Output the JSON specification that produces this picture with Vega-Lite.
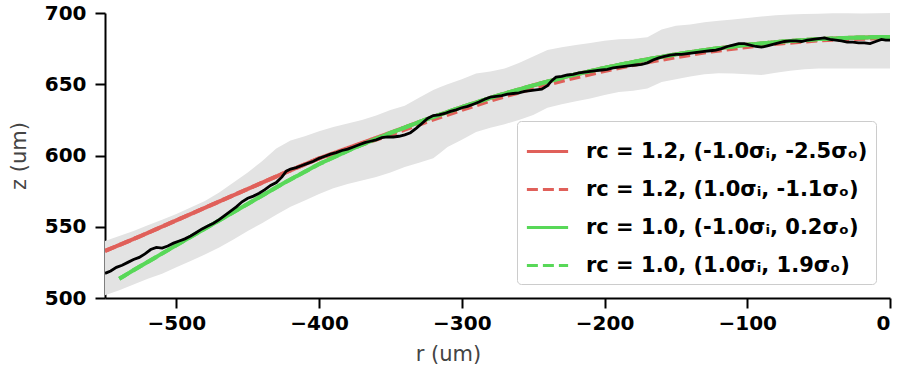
{
  "$schema": "https://vega.github.io/schema/vega-lite/v6.json",
  "width": 785,
  "height": 285,
  "autosize": {"type": "none"},
  "padding": {"left": 105, "top": 13, "right": 10, "bottom": 74},
  "background": "white",
  "config": {
    "view": {"stroke": null},
    "font": "DejaVu Sans",
    "axis": {
      "grid": false,
      "domainColor": "black",
      "domainWidth": 2,
      "tickColor": "black",
      "tickWidth": 2,
      "tickSize": 10,
      "labelFont": "DejaVu Sans",
      "labelFontSize": 20,
      "labelFontWeight": "bold",
      "labelColor": "black",
      "titleFont": "DejaVu Sans",
      "titleFontSize": 21,
      "titleFontWeight": "normal",
      "titleColor": "#444444"
    },
    "legend": {
      "fillColor": "rgba(255,255,255,0.85)",
      "strokeColor": "#cccccc",
      "cornerRadius": 4,
      "padding": 8
    }
  },
  "datasets": {
    "band": [
      {"r": -550, "lo": 502, "hi": 540}, {"r": -540, "lo": 505.5, "hi": 543.5}, {"r": -530, "lo": 509.5, "hi": 547},
      {"r": -520, "lo": 513.5, "hi": 551}, {"r": -510, "lo": 517, "hi": 555}, {"r": -500, "lo": 521.5, "hi": 559},
      {"r": -490, "lo": 526, "hi": 563.5}, {"r": -480, "lo": 530.5, "hi": 568}, {"r": -470, "lo": 535.5, "hi": 574},
      {"r": -460, "lo": 541, "hi": 581}, {"r": -450, "lo": 547, "hi": 588}, {"r": -440, "lo": 552.5, "hi": 596},
      {"r": -430, "lo": 558.5, "hi": 605}, {"r": -420, "lo": 564, "hi": 610.5}, {"r": -410, "lo": 568.5, "hi": 613.5},
      {"r": -400, "lo": 573, "hi": 617}, {"r": -390, "lo": 577, "hi": 620}, {"r": -380, "lo": 580, "hi": 622.5},
      {"r": -370, "lo": 582.5, "hi": 625}, {"r": -360, "lo": 585, "hi": 628}, {"r": -350, "lo": 588, "hi": 632},
      {"r": -340, "lo": 592, "hi": 635}, {"r": -330, "lo": 595, "hi": 640.5}, {"r": -320, "lo": 598, "hi": 646},
      {"r": -315, "lo": 602, "hi": 648}, {"r": -310, "lo": 606, "hi": 650}, {"r": -300, "lo": 611, "hi": 653.5},
      {"r": -290, "lo": 616.5, "hi": 657.5}, {"r": -280, "lo": 619.5, "hi": 659}, {"r": -270, "lo": 622, "hi": 661},
      {"r": -260, "lo": 625, "hi": 665}, {"r": -250, "lo": 628.5, "hi": 669.5}, {"r": -240, "lo": 633.5, "hi": 674},
      {"r": -230, "lo": 636, "hi": 676}, {"r": -220, "lo": 638, "hi": 677.5}, {"r": -210, "lo": 640, "hi": 679},
      {"r": -200, "lo": 642.5, "hi": 680.5}, {"r": -190, "lo": 644.5, "hi": 681.5}, {"r": -180, "lo": 645.5, "hi": 682},
      {"r": -170, "lo": 647, "hi": 683}, {"r": -160, "lo": 651.5, "hi": 688.5}, {"r": -150, "lo": 653.5, "hi": 691},
      {"r": -140, "lo": 655.5, "hi": 692}, {"r": -130, "lo": 657, "hi": 693.5}, {"r": -120, "lo": 657.7, "hi": 694.5},
      {"r": -110, "lo": 657.5, "hi": 695.5}, {"r": -100, "lo": 657, "hi": 696.5}, {"r": -90, "lo": 656.5, "hi": 697.5},
      {"r": -80, "lo": 658, "hi": 698.5}, {"r": -70, "lo": 659.5, "hi": 699}, {"r": -60, "lo": 660.5, "hi": 699.3},
      {"r": -50, "lo": 661, "hi": 699.5}, {"r": -40, "lo": 661, "hi": 699.8}, {"r": -30, "lo": 661, "hi": 699.8},
      {"r": -20, "lo": 661, "hi": 699.6}, {"r": -10, "lo": 661, "hi": 699.8}, {"r": 0, "lo": 661, "hi": 700}
    ],
    "obs": [
      {"r": -550, "z": 517.3}, {"r": -546, "z": 519}, {"r": -542, "z": 521.5}, {"r": -538, "z": 523},
      {"r": -534, "z": 525}, {"r": -530, "z": 527}, {"r": -526, "z": 528.5}, {"r": -522, "z": 531},
      {"r": -518, "z": 534}, {"r": -514, "z": 535.5}, {"r": -510, "z": 535}, {"r": -506, "z": 536.5},
      {"r": -502, "z": 538.5}, {"r": -498, "z": 540}, {"r": -494, "z": 541.5}, {"r": -490, "z": 543.5},
      {"r": -486, "z": 546}, {"r": -482, "z": 548.5}, {"r": -478, "z": 550.5}, {"r": -474, "z": 552.5},
      {"r": -470, "z": 555}, {"r": -466, "z": 558}, {"r": -462, "z": 561}, {"r": -458, "z": 564},
      {"r": -454, "z": 567.5}, {"r": -450, "z": 570}, {"r": -446, "z": 571.5}, {"r": -442, "z": 573.5},
      {"r": -438, "z": 576}, {"r": -434, "z": 579}, {"r": -430, "z": 581}, {"r": -426, "z": 585},
      {"r": -423, "z": 589}, {"r": -420, "z": 590.5}, {"r": -416, "z": 591.5}, {"r": -412, "z": 593},
      {"r": -408, "z": 594.5}, {"r": -404, "z": 596}, {"r": -400, "z": 598}, {"r": -396, "z": 599.5},
      {"r": -392, "z": 601}, {"r": -388, "z": 602}, {"r": -384, "z": 603.5}, {"r": -380, "z": 604.5},
      {"r": -376, "z": 606}, {"r": -372, "z": 607.5}, {"r": -368, "z": 609}, {"r": -364, "z": 610},
      {"r": -360, "z": 611}, {"r": -356, "z": 612.5}, {"r": -352, "z": 613}, {"r": -348, "z": 613},
      {"r": -344, "z": 613.5}, {"r": -340, "z": 614.5}, {"r": -336, "z": 616}, {"r": -332, "z": 619},
      {"r": -328, "z": 622.5}, {"r": -324, "z": 626}, {"r": -320, "z": 628}, {"r": -316, "z": 628.5},
      {"r": -312, "z": 629.5}, {"r": -308, "z": 631}, {"r": -304, "z": 632}, {"r": -300, "z": 633.5},
      {"r": -296, "z": 634.5}, {"r": -292, "z": 636}, {"r": -288, "z": 637.5}, {"r": -284, "z": 639.5},
      {"r": -280, "z": 641}, {"r": -276, "z": 641.5}, {"r": -272, "z": 642}, {"r": -268, "z": 643},
      {"r": -264, "z": 643.5}, {"r": -260, "z": 644}, {"r": -256, "z": 645}, {"r": -252, "z": 645.5},
      {"r": -248, "z": 646}, {"r": -244, "z": 646.5}, {"r": -240, "z": 649}, {"r": -237, "z": 652.5},
      {"r": -234, "z": 655}, {"r": -230, "z": 655.5}, {"r": -226, "z": 656.5}, {"r": -222, "z": 657},
      {"r": -218, "z": 658}, {"r": -214, "z": 658.5}, {"r": -210, "z": 659}, {"r": -206, "z": 659.5},
      {"r": -202, "z": 660}, {"r": -198, "z": 660.5}, {"r": -194, "z": 661.5}, {"r": -190, "z": 662},
      {"r": -186, "z": 662.5}, {"r": -182, "z": 663}, {"r": -178, "z": 663.5}, {"r": -174, "z": 664},
      {"r": -170, "z": 665}, {"r": -166, "z": 667}, {"r": -162, "z": 668.5}, {"r": -158, "z": 669.5},
      {"r": -154, "z": 670.5}, {"r": -150, "z": 671}, {"r": -146, "z": 671}, {"r": -142, "z": 671.5},
      {"r": -138, "z": 672}, {"r": -134, "z": 672.5}, {"r": -130, "z": 673}, {"r": -126, "z": 673.5},
      {"r": -122, "z": 674}, {"r": -118, "z": 675}, {"r": -114, "z": 676.5}, {"r": -110, "z": 677.5},
      {"r": -106, "z": 678.5}, {"r": -102, "z": 678.5}, {"r": -98, "z": 677.5}, {"r": -94, "z": 676.5},
      {"r": -90, "z": 676}, {"r": -86, "z": 677}, {"r": -82, "z": 678}, {"r": -78, "z": 679},
      {"r": -74, "z": 680}, {"r": -70, "z": 680.5}, {"r": -66, "z": 680.5}, {"r": -62, "z": 680},
      {"r": -58, "z": 681}, {"r": -54, "z": 681.5}, {"r": -50, "z": 682}, {"r": -46, "z": 682.5},
      {"r": -42, "z": 681.5}, {"r": -38, "z": 681}, {"r": -34, "z": 680.5}, {"r": -30, "z": 679.5},
      {"r": -26, "z": 679.5}, {"r": -22, "z": 679}, {"r": -18, "z": 679}, {"r": -14, "z": 678.5},
      {"r": -10, "z": 680}, {"r": -6, "z": 681.5}, {"r": -3, "z": 681}, {"r": 0, "z": 681}
    ],
    "models": [
      {"s": "a", "r": -550, "z": 533}, {"s": "a", "r": -525, "z": 543.5}, {"s": "a", "r": -500, "z": 554.5},
      {"s": "a", "r": -475, "z": 565.5}, {"s": "a", "r": -450, "z": 576.5}, {"s": "a", "r": -425, "z": 587.5},
      {"s": "a", "r": -400, "z": 598}, {"s": "a", "r": -375, "z": 607}, {"s": "a", "r": -350, "z": 616},
      {"s": "a", "r": -325, "z": 625.3}, {"s": "a", "r": -300, "z": 634}, {"s": "a", "r": -275, "z": 642},
      {"s": "a", "r": -250, "z": 649.2}, {"s": "a", "r": -225, "z": 655.8}, {"s": "a", "r": -200, "z": 661.5},
      {"s": "a", "r": -175, "z": 666.6}, {"s": "a", "r": -150, "z": 671}, {"s": "a", "r": -125, "z": 674.7},
      {"s": "a", "r": -100, "z": 677.7}, {"s": "a", "r": -75, "z": 680}, {"s": "a", "r": -50, "z": 681.7},
      {"s": "a", "r": -25, "z": 682.7}, {"s": "a", "r": 0, "z": 683.2},
      {"s": "b", "r": -550, "z": 533}, {"s": "b", "r": -525, "z": 543.5}, {"s": "b", "r": -500, "z": 554.5},
      {"s": "b", "r": -475, "z": 565.5}, {"s": "b", "r": -450, "z": 576.5}, {"s": "b", "r": -425, "z": 587.5},
      {"s": "b", "r": -400, "z": 598}, {"s": "b", "r": -375, "z": 606}, {"s": "b", "r": -350, "z": 614.5},
      {"s": "b", "r": -325, "z": 623.5}, {"s": "b", "r": -300, "z": 632}, {"s": "b", "r": -275, "z": 640},
      {"s": "b", "r": -250, "z": 647}, {"s": "b", "r": -225, "z": 653.5}, {"s": "b", "r": -200, "z": 659.3},
      {"s": "b", "r": -175, "z": 664.5}, {"s": "b", "r": -150, "z": 669}, {"s": "b", "r": -125, "z": 673},
      {"s": "b", "r": -100, "z": 676.2}, {"s": "b", "r": -75, "z": 678.8}, {"s": "b", "r": -50, "z": 680.7},
      {"s": "b", "r": -25, "z": 681.8}, {"s": "b", "r": 0, "z": 682.4},
      {"s": "c", "r": -540, "z": 513.5}, {"s": "c", "r": -525, "z": 522.5}, {"s": "c", "r": -500, "z": 537},
      {"s": "c", "r": -475, "z": 551.5}, {"s": "c", "r": -450, "z": 566}, {"s": "c", "r": -425, "z": 580.5},
      {"s": "c", "r": -400, "z": 594}, {"s": "c", "r": -375, "z": 605.5}, {"s": "c", "r": -350, "z": 615.8},
      {"s": "c", "r": -325, "z": 625.3}, {"s": "c", "r": -300, "z": 634}, {"s": "c", "r": -275, "z": 642},
      {"s": "c", "r": -250, "z": 649.2}, {"s": "c", "r": -225, "z": 655.8}, {"s": "c", "r": -200, "z": 661.5},
      {"s": "c", "r": -175, "z": 666.6}, {"s": "c", "r": -150, "z": 671}, {"s": "c", "r": -125, "z": 674.7},
      {"s": "c", "r": -100, "z": 677.7}, {"s": "c", "r": -75, "z": 680}, {"s": "c", "r": -50, "z": 681.7},
      {"s": "c", "r": -25, "z": 682.7}, {"s": "c", "r": 0, "z": 683.2},
      {"s": "d", "r": -540, "z": 513.5}, {"s": "d", "r": -525, "z": 522.5}, {"s": "d", "r": -500, "z": 537},
      {"s": "d", "r": -475, "z": 551.5}, {"s": "d", "r": -450, "z": 566}, {"s": "d", "r": -425, "z": 580.5},
      {"s": "d", "r": -400, "z": 594}, {"s": "d", "r": -375, "z": 605.5}, {"s": "d", "r": -350, "z": 615.8},
      {"s": "d", "r": -325, "z": 625.3}, {"s": "d", "r": -300, "z": 634}, {"s": "d", "r": -275, "z": 642},
      {"s": "d", "r": -250, "z": 649.2}, {"s": "d", "r": -225, "z": 655.8}, {"s": "d", "r": -200, "z": 661.5},
      {"s": "d", "r": -175, "z": 666.6}, {"s": "d", "r": -150, "z": 671}, {"s": "d", "r": -125, "z": 674.7},
      {"s": "d", "r": -100, "z": 677.7}, {"s": "d", "r": -75, "z": 680}, {"s": "d", "r": -50, "z": 681.7},
      {"s": "d", "r": -25, "z": 682.7}, {"s": "d", "r": 0, "z": 683.2}
    ]
  },
  "encoding": {
    "x": {
      "field": "r", "type": "quantitative",
      "scale": {"domain": [-550, 0], "nice": false, "zero": false},
      "axis": {"title": "r (um)", "values": [-500, -400, -300, -200, -100, 0], "labelPadding": 5, "titleX": 343, "titleY": 56, "titleBaseline": "middle", "titleAnchor": null}
    }
  },
  "layer": [
    {
      "data": {"name": "band"},
      "mark": {"type": "area", "color": "#e3e3e3", "opacity": 1, "clip": true},
      "encoding": {
        "y": {"field": "lo", "type": "quantitative", "scale": {"domain": [500, 700], "nice": false, "zero": false},
          "axis": {"title": "z (um)", "values": [500, 550, 600, 650, 700], "labelPadding": 9, "titleX": -86, "titleY": 142.5, "titleBaseline": "middle", "titleAngle": -90}},
        "y2": {"field": "hi"}
      }
    },
    {
      "data": {"name": "models"},
      "mark": {"type": "line", "strokeWidth": 4, "clip": true},
      "encoding": {
        "y": {"field": "z", "type": "quantitative"},
        "color": {
          "field": "s", "type": "nominal",
          "scale": {"domain": ["a", "b", "c", "d"], "range": ["#e0605a", "#e0605a", "#58d858", "#58d858"]},
          "legend": {
            "title": null,
            "orient": "bottom-right",
            "offset": 14,
            "symbolType": "stroke",
            "symbolSize": 1700,
            "symbolStrokeWidth": 3,
            "labelFont": "DejaVu Sans",
            "labelFontSize": 21,
            "labelFontWeight": "bold",
            "labelColor": "black",
            "labelOffset": 16,
            "labelLimit": 400,
            "rowPadding": 5,
            "labelExpr": "datum.value == 'a' ? 'rᴄ = 1.2, (-1.0σᵢ, -2.5σₒ)' : datum.value == 'b' ? 'rᴄ = 1.2, (1.0σᵢ, -1.1σₒ)' : datum.value == 'c' ? 'rᴄ = 1.0, (-1.0σᵢ, 0.2σₒ)' : 'rᴄ = 1.0, (1.0σᵢ, 1.9σₒ)'"
          }
        },
        "strokeDash": {
          "field": "s", "type": "nominal",
          "scale": {"domain": ["a", "b", "c", "d"], "range": [[1, 0], [11, 5], [1, 0], [11, 5]]},
          "legend": {
            "title": null,
            "orient": "bottom-right",
            "offset": 14,
            "symbolType": "stroke",
            "symbolSize": 1700,
            "symbolStrokeWidth": 3,
            "labelFont": "DejaVu Sans",
            "labelFontSize": 21,
            "labelFontWeight": "bold",
            "labelColor": "black",
            "labelOffset": 16,
            "labelLimit": 400,
            "rowPadding": 5,
            "labelExpr": "datum.value == 'a' ? 'rᴄ = 1.2, (-1.0σᵢ, -2.5σₒ)' : datum.value == 'b' ? 'rᴄ = 1.2, (1.0σᵢ, -1.1σₒ)' : datum.value == 'c' ? 'rᴄ = 1.0, (-1.0σᵢ, 0.2σₒ)' : 'rᴄ = 1.0, (1.0σᵢ, 1.9σₒ)'"
          }
        }
      }
    },
    {
      "data": {"name": "obs"},
      "mark": {"type": "line", "color": "black", "strokeWidth": 2.8, "clip": true},
      "encoding": {
        "y": {"field": "z", "type": "quantitative"}
      }
    }
  ]
}
